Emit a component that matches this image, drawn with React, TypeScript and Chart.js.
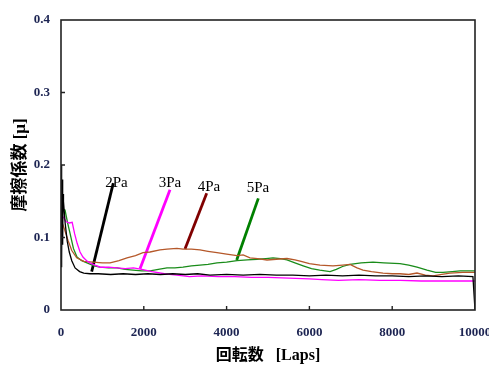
import React, { useEffect, useRef } from "react";
import { Chart, registerables } from "chart.js";

Chart.register(...registerables);

// ---- data ----
const xTicks = [0, 2000, 4000, 6000, 8000, 10000];
const yTicks = [0, 0.1, 0.2, 0.3, 0.4];

const laps2Pa = [0, 10, 20, 30, 40, 50, 60, 100, 150, 200, 260, 340, 450, 550, 700, 900, 1200, 1500, 1800, 2100, 2400, 2700, 3000, 3300, 3600, 4000, 4400, 4800, 5200, 5600, 6000, 6400, 6800, 7200, 7600, 8000, 8400, 8800, 9200, 9600, 9950, 10000];
const mu2Pa = [0.06, 0.2, 0.07, 0.18, 0.09, 0.16, 0.15, 0.12, 0.095, 0.08, 0.068, 0.058, 0.053, 0.051, 0.05, 0.05, 0.049, 0.05, 0.049, 0.05, 0.049, 0.05, 0.049, 0.05, 0.048, 0.049, 0.048, 0.049, 0.048, 0.048, 0.047, 0.048, 0.047, 0.048, 0.047, 0.047, 0.046, 0.047, 0.046, 0.047, 0.046, 0];

const laps3Pa = [0, 60, 120, 200, 270, 330, 390, 460, 530, 620, 700, 820, 950, 1150, 1350, 1550, 1750, 1950, 2200, 2500, 2800, 3100, 3400, 3800, 4200, 4600, 5000, 5500, 6000, 6300, 6700, 7200, 7700, 8200, 8700, 9200, 9700, 10000];
const mu3Pa = [0.13, 0.128, 0.122, 0.12, 0.121, 0.105, 0.092, 0.08, 0.073, 0.068, 0.065, 0.062, 0.059, 0.059, 0.058, 0.057, 0.058, 0.056, 0.053, 0.05, 0.048, 0.046, 0.047, 0.046, 0.046, 0.045, 0.045, 0.044, 0.043, 0.042, 0.041, 0.042, 0.041, 0.041, 0.04, 0.04, 0.04, 0.04];

const laps4Pa = [0, 80, 170, 260, 380, 550, 773, 1000, 1184, 1400, 1594, 1800, 1980, 2150, 2391, 2560, 2800, 2947, 3150, 3357, 3550, 3768, 4000, 4251, 4400, 4565, 4750, 4976, 5200, 5459, 5650, 5800, 6000, 6256, 6570, 6800, 6981, 7150, 7295, 7500, 7778, 8000, 8188, 8400, 8599, 8800, 8986, 9200, 9396, 9700, 10000];
const mu4Pa = [0.125, 0.112, 0.096, 0.082, 0.072, 0.067, 0.066, 0.065, 0.065, 0.068, 0.072, 0.075, 0.079, 0.08, 0.083, 0.084, 0.085, 0.084, 0.084, 0.083, 0.081, 0.079, 0.077, 0.075, 0.076, 0.072, 0.071, 0.069, 0.07, 0.071, 0.069, 0.067, 0.064, 0.062, 0.061, 0.062, 0.063, 0.058, 0.055, 0.053, 0.051, 0.05, 0.05, 0.049, 0.051, 0.048, 0.047, 0.049, 0.051, 0.052, 0.052];

const laps5Pa = [0, 97, 160, 217, 300, 386, 500, 628, 800, 942, 1150, 1353, 1550, 1739, 1950, 2150, 2350, 2560, 2750, 2947, 3150, 3357, 3550, 3768, 4000, 4251, 4500, 4734, 4950, 5121, 5300, 5459, 5650, 5850, 6050, 6250, 6498, 6650, 6800, 6981, 7250, 7536, 7800, 8188, 8400, 8600, 8841, 9050, 9227, 9450, 9638, 10000];
const mu5Pa = [0.14, 0.138, 0.12, 0.106, 0.085, 0.073, 0.068, 0.065, 0.061, 0.059, 0.058, 0.058, 0.056, 0.055, 0.054, 0.054, 0.056, 0.058, 0.058, 0.059, 0.061, 0.062, 0.063, 0.065, 0.066, 0.068, 0.069, 0.07, 0.071, 0.072, 0.071, 0.069, 0.065, 0.061, 0.057, 0.055, 0.053, 0.056, 0.06, 0.063, 0.065, 0.066, 0.065, 0.064, 0.062, 0.059, 0.055, 0.052, 0.052, 0.053, 0.054, 0.054];

// annotation labels and leader lines (data coordinates)
const labelNames = ["2Pa", "3Pa", "4Pa", "5Pa"];
const labelX = [1340, 2633, 3575, 4758];
const labelY = [0.175, 0.175, 0.17, 0.168];
const leaderFromX = [741, 1908, 2995, 4244];
const leaderFromY = [0.053, 0.057, 0.084, 0.069];
const leaderToX = [1263, 2633, 3519, 4766];
const leaderToY = [0.175, 0.166, 0.161, 0.154];

const seriesColors = ["#000000", "#ff00ff", "#b5582a", "#1a8c1a"];
const leaderColors = ["#000000", "#ff00ff", "#800000", "#008000"];

const pts = (xs: number[], ys: number[]) => xs.map((x, i) => ({ x, y: ys[i] }));

export default function App() {
  const ref = useRef<HTMLCanvasElement | null>(null);

  useEffect(() => {
    document.body.style.margin = "0";
    if (!ref.current) return;

    const seriesX = [laps2Pa, laps3Pa, laps4Pa, laps5Pa];
    const seriesY = [mu2Pa, mu3Pa, mu4Pa, mu5Pa];

    const datasets: any[] = seriesX.map((xs, i) => ({
      label: labelNames[i],
      data: pts(xs, seriesY[i]),
      borderColor: seriesColors[i],
      borderWidth: 1.3,
      pointRadius: 0,
      tension: 0,
      fill: false,
    }));
    labelNames.forEach((n, i) => {
      datasets.push({
        label: n + " leader",
        data: [
          { x: leaderFromX[i], y: leaderFromY[i] },
          { x: leaderToX[i], y: leaderToY[i] },
        ],
        borderColor: leaderColors[i],
        borderWidth: 2.8,
        pointRadius: 0,
        fill: false,
      });
    });

    const framePlugin = {
      id: "frame",
      afterDatasetsDraw(chart: any) {
        const { ctx, chartArea } = chart;
        const { left, top, right, bottom } = chartArea;
        const xs = chart.scales.x;
        const ys = chart.scales.y;
        ctx.save();
        // labels
        ctx.fillStyle = "#000";
        ctx.font = '15px "Liberation Serif", serif';
        ctx.textAlign = "center";
        ctx.textBaseline = "middle";
        labelNames.forEach((n, i) => {
          ctx.fillText(n, xs.getPixelForValue(labelX[i]), ys.getPixelForValue(labelY[i]));
        });
        // box
        ctx.strokeStyle = "#222";
        ctx.lineWidth = 1.6;
        ctx.strokeRect(left, top, right - left, bottom - top);
        // inward ticks
        ctx.lineWidth = 1.4;
        ctx.beginPath();
        yTicks.slice(1, -1).forEach((v) => {
          const py = ys.getPixelForValue(v);
          ctx.moveTo(left, py);
          ctx.lineTo(left + 4, py);
        });
        xTicks.slice(1, -1).forEach((v) => {
          const px = xs.getPixelForValue(v);
          ctx.moveTo(px, bottom);
          ctx.lineTo(px, bottom - 4);
        });
        ctx.stroke();
        ctx.restore();
      },
    };

    const tickFont = { family: '"Liberation Serif", serif', size: 13, weight: "bold" as const };
    const titleFont = { family: '"Liberation Serif", "Noto Sans CJK JP", serif', size: 16, weight: "bold" as const };
    const yTitleFont = { family: '"Liberation Serif", "Noto Sans CJK JP", serif', size: 17, weight: "bold" as const };

    const chart = new Chart(ref.current, {
      type: "line",
      data: { datasets },
      options: {
        animation: false,
        responsive: false,
        maintainAspectRatio: false,
        layout: { padding: { top: 20, right: 14, left: 0, bottom: 0 } },
        plugins: { legend: { display: false }, tooltip: { enabled: false } },
        scales: {
          x: {
            type: "linear",
            min: 0,
            max: 10000,
            afterBuildTicks: (s: any) => {
              s.ticks = xTicks.map((v) => ({ value: v }));
            },
            afterFit: (s: any) => {
              s.height = 55;
              s.paddingRight = 0;
              s.paddingLeft = 0;
            },
            grid: { display: false, drawTicks: false },
            border: { display: false },
            ticks: { color: "#1c2452", font: tickFont, padding: 15, maxRotation: 0, autoSkip: false, callback: (v: any) => String(v) },
            title: { display: true, text: "回転数   [Laps]", color: "#000", font: titleFont, padding: { top: 0, bottom: 0 } },
          },
          y: {
            type: "linear",
            min: 0,
            max: 0.4,
            afterBuildTicks: (s: any) => {
              s.ticks = yTicks.map((v) => ({ value: v }));
            },
            afterFit: (s: any) => {
              s.width = 61;
              s.paddingTop = 0;
              s.paddingBottom = 0;
            },
            grid: { display: false, drawTicks: false },
            border: { display: false },
            ticks: { color: "#1c2452", font: tickFont, padding: 11, callback: (v: any) => (v === 0 ? "0" : Number(v).toFixed(1)) },
            title: { display: true, text: "摩擦係数 [μ]", color: "#000", font: yTitleFont, padding: { top: 10, bottom: 0 } },
          },
        },
      },
      plugins: [framePlugin],
    });
    return () => chart.destroy();
  }, []);

  return (
    <div style={{ width: 489, height: 365 }}>
      <canvas ref={ref} width={489} height={365} style={{ width: 489, height: 365, display: "block" }} />
    </div>
  );
}
